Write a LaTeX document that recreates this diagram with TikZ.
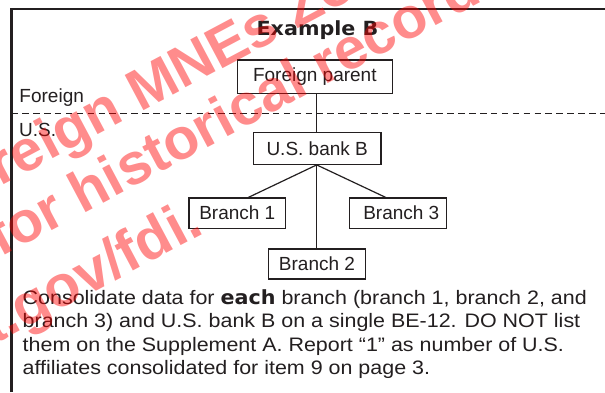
\documentclass[tikz,border=0pt]{standalone}
\usepackage{fontspec}
\setmainfont{Liberation Sans}
\newfontfamily\heavyfont[FakeStretch=1.06]{DejaVu Sans}
\newfontfamily\parafont[FakeStretch=1.1]{Liberation Sans}
\newfontfamily\wmfont{Liberation Sans}
\definecolor{ink}{HTML}{231F20}
\tikzset{
  box/.style={draw=ink, line width=1.2pt, inner sep=0pt, text=ink},
  conn/.style={draw=ink, line width=1.2pt},
  lbl/.style={anchor=base west, inner sep=0pt, text=ink},
  para/.style={anchor=base west, inner sep=0pt, text=ink, font=\parafont\fontsize{19.5}{23}\selectfont},
  wm/.style={anchor=base west, inner sep=0pt, rotate=28, text=red, text opacity=0.45,
    font=\wmfont\bfseries\fontsize{58}{68}\selectfont}
}
\begin{document}
\begin{tikzpicture}[x=1pt,y=-1pt, font=\fontsize{19}{22}\selectfont]
\useasboundingbox (0,0) rectangle (605,392);
\fill[white] (0,0) rectangle (605,392);
% frame
\draw[ink, line width=2.5pt] (11.3,392) -- (11.3,8.8) -- (605,8.8);
% title
\node[anchor=base, inner sep=0pt, text=ink, font=\heavyfont\bfseries\fontsize{19.5}{22}\selectfont] (title) at (317.5,35) {Example B};
% region labels and divider
\node[lbl] (lforeign) at (19.3,102.3) {Foreign};
\node[lbl] (lus) at (19,136.7) {U.S.};
\draw[ink, line width=1.2pt, dash pattern=on 6.5pt off 4.4pt] (11.3,113.3) -- (605,113.3);
% boxes
\node[box, minimum width=155pt, minimum height=33.3pt] (fp) at (314.8,76.7) {Foreign parent};
\node[box, minimum width=127.7pt, minimum height=32pt] (bk) at (317.2,148.3) {U.S. bank B};
\node[box, minimum width=96.7pt, minimum height=30.3pt] (b1) at (237.3,213.2) {Branch 1};
\node[box, minimum width=97pt, minimum height=30.3pt] (b3) at (397.8,213.2) {\hspace{7pt}Branch 3};
\node[box, minimum width=96.6pt, minimum height=30pt] (b2) at (317,264) {Branch 2};
% connectors
\coordinate (bkbot) at ([xshift=-0.5pt]bk.south);
\coordinate (b1top) at ([xshift=11pt]b1.north);
\coordinate (b3top) at ([xshift=-12pt]b3.north);
\draw[conn] (fp.south -| bkbot) -- (bkbot |- bk.north);
\draw[conn] (bkbot) -- (b1top);
\draw[conn] (bkbot) -- (b3top);
\draw[conn] (bkbot) -- (bkbot |- b2.north);
% paragraph
\node[para] (p1) at (22.5,304) {Consolidate data for {\heavyfont\bfseries each} branch (branch 1, branch 2, and};
\node[para] (p2) at (22.5,327.5) {branch 3) and U.S. bank B on a single BE-12. DO NOT list};
\node[para] (p3) at (22.5,351) {them on the Supplement A. Report “1” as number of U.S.};
\node[para] (p4) at (22.5,374.5) {affiliates consolidated for item 9 on page 3.};
% watermark
\begin{scope}
\clip (0,0) rectangle (605,392);
\node[wm] (wm1) at (-62,220) {Foreign MNEs Zone};
\node[wm] (wm2) at (0,258) {for historical record};
\node[wm] (wm3) at (-211,454) {www.bea.gov/fdi.};
\end{scope}
\end{tikzpicture}
\end{document}
